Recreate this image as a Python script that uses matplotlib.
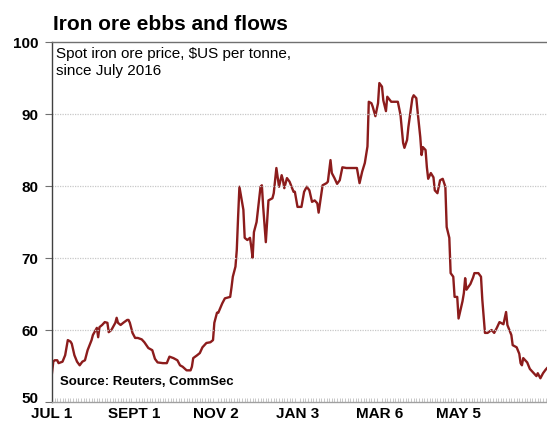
import numpy as np
import matplotlib.pyplot as plt
from matplotlib.transforms import ScaledTranslation

plt.rcParams['font.family'] = ['Liberation Sans', 'DejaVu Sans']

# days since 1 July 2016, spot iron ore price ($US/t)
days = [0, 1, 2, 4, 5, 8, 10, 12, 14, 15, 17, 19, 21, 23, 25, 27, 30, 31, 34, 35,
        36, 38, 40, 42, 43, 45, 48, 49, 50, 52, 54, 57, 58, 59, 61, 63, 65, 68, 70, 73,
        76, 78, 80, 84, 87, 89, 92, 95, 97, 99, 102, 105, 106, 107, 110, 112, 114, 117, 120, 122,
        123, 125, 126, 129, 131, 135, 136, 137, 139, 140, 141, 142, 145, 146, 148, 150, 151, 152, 153, 155,
        158, 159, 160, 162, 164, 167, 168, 170, 171, 172, 174, 175, 176, 178, 180, 183, 184, 186, 189, 191,
        193, 195, 197, 199, 201, 202, 203, 205, 208, 209, 211, 212, 214, 216, 218, 220, 223, 231, 233, 235,
        237, 239, 240, 242, 243, 245, 247, 248, 250, 251, 253, 254, 257, 258, 262, 264, 266, 267, 269, 270,
        273, 274, 276, 277, 279, 280, 281, 283, 284, 285, 287, 289, 290, 292, 294, 296, 298, 299, 301, 302,
        304, 305, 307, 308, 311, 312, 313, 314, 317, 319, 320, 323, 325, 326, 328, 330, 333, 335, 337, 339,
        342, 344, 345, 348, 349, 352, 354, 355, 356, 357, 360, 362, 364, 367, 368, 370, 372, 374, 375]
price = [54.0, 55.6, 55.8, 55.8, 55.4, 55.6, 56.5, 58.6, 58.4, 58.1, 56.5, 55.6, 55.1, 55.6, 55.8, 57.2, 58.6, 59.3, 60.3, 59.0,
         60.4, 60.7, 61.1, 61.0, 59.7, 60.0, 61.0, 61.7, 61.0, 60.7, 61.0, 61.4, 61.4, 61.0, 59.6, 58.9, 58.9, 58.7, 58.3, 57.5,
         57.2, 56.0, 55.5, 55.4, 55.4, 56.3, 56.1, 55.8, 55.1, 54.9, 54.4, 54.4, 54.9, 56.1, 56.5, 56.8, 57.6, 58.2, 58.3, 58.6,
         61.0, 62.4, 62.4, 63.7, 64.4, 64.6, 65.9, 67.4, 68.8, 71.1, 75.7, 79.9, 76.7, 72.8, 72.5, 72.8, 71.5, 70.0, 73.6, 75.0,
         79.9, 80.1, 77.1, 72.2, 78.0, 78.3, 79.0, 82.5, 81.2, 79.9, 81.5, 80.8, 79.7, 81.1, 80.6, 79.2, 79.2, 77.1, 77.1, 79.2,
         79.9, 79.4, 77.8, 78.0, 77.6, 76.3, 77.6, 80.1, 80.4, 80.6, 83.6, 81.8, 81.1, 80.3, 80.8, 82.6, 82.5, 82.5, 80.4, 82.0,
         83.2, 85.5, 91.7, 91.5, 91.0, 89.7, 91.5, 94.3, 93.8, 91.9, 90.4, 92.4, 91.7, 91.7, 91.7, 89.9, 86.0, 85.3, 86.4, 88.2,
         92.2, 92.6, 92.2, 90.3, 86.8, 84.3, 85.4, 85.0, 82.6, 81.0, 81.8, 81.2, 79.4, 79.0, 80.8, 81.0, 79.9, 74.3, 72.8, 67.9,
         67.4, 64.6, 64.6, 61.6, 64.0, 65.1, 67.2, 65.6, 66.4, 67.3, 67.9, 67.9, 67.4, 64.2, 59.6, 59.6, 60.0, 59.6, 60.3, 61.1,
         60.8, 62.5, 60.7, 59.3, 57.9, 57.6, 56.7, 55.4, 55.1, 56.1, 55.5, 54.6, 54.2, 53.6, 54.0, 53.3, 54.0, 54.5, 54.7]

tick_days = [0, 62, 124, 186, 248, 308]
tick_labels = ['JUL 1', 'SEPT 1', 'NOV 2', 'JAN 3', 'MAR 6', 'MAY 5']
y_ticks = [50, 60, 70, 80, 90, 100]

fig = plt.figure(figsize=(5.47, 4.23), dpi=100)
ax = fig.add_axes([0.095, 0.0496, 0.905, 0.8511])

ax.plot(days, price, color='#8c1c1c', lw=1.7, solid_joinstyle='round')

ax.set_xlim(0, 375)
ax.set_ylim(50, 100)
ax.set_yticks(y_ticks)
ax.set_xticks(tick_days)
ax.set_xticklabels(tick_labels)
ax.set_xticks(np.arange(0, 376, 2), minor=True)

for v in [60, 70, 80, 90]:
    ax.axhline(v, color='#c8c8c8', lw=0.9, ls=(0, (1, 1)))

ax.spines['right'].set_visible(False)
ax.spines['top'].set_color('#707070')
ax.spines['top'].set_linewidth(1.0)
ax.spines['left'].set_color('#404040')
ax.spines['left'].set_linewidth(1.0)
ax.spines['bottom'].set_color('#a0a0a0')
ax.spines['bottom'].set_linewidth(1.0)

ax.tick_params(axis='y', length=5, width=0.8, color='#707070', pad=5,
               labelsize=11)
ax.tick_params(axis='x', which='major', length=0, pad=3.5, labelsize=11)
ax.tick_params(axis='x', which='minor', length=3, width=0.5, color='#b0b0b0',
               direction='in')
for lab in ax.get_xticklabels() + ax.get_yticklabels():
    lab.set_fontweight('bold')

# lift the "50" label a touch so it clears "JUL 1"
lab50 = ax.yaxis.get_major_ticks()[0].label1
lab50.set_transform(lab50.get_transform() + ScaledTranslation(0, 3 / 72, fig.dpi_scale_trans))

fig.text(0.097, 0.93, 'Iron ore ebbs and flows', fontsize=15, fontweight='bold',
         ha='left', va='baseline')
ax.text(0.008, 0.985, 'Spot iron ore price, $US per tonne,\nsince July 2016',
        transform=ax.transAxes, fontsize=11, ha='left', va='top', linespacing=1.25)
ax.text(0.016, 0.04, 'Source: Reuters, CommSec', transform=ax.transAxes,
        fontsize=9.5, fontweight='bold', ha='left', va='bottom')

fig.savefig('out.png', dpi=100)
